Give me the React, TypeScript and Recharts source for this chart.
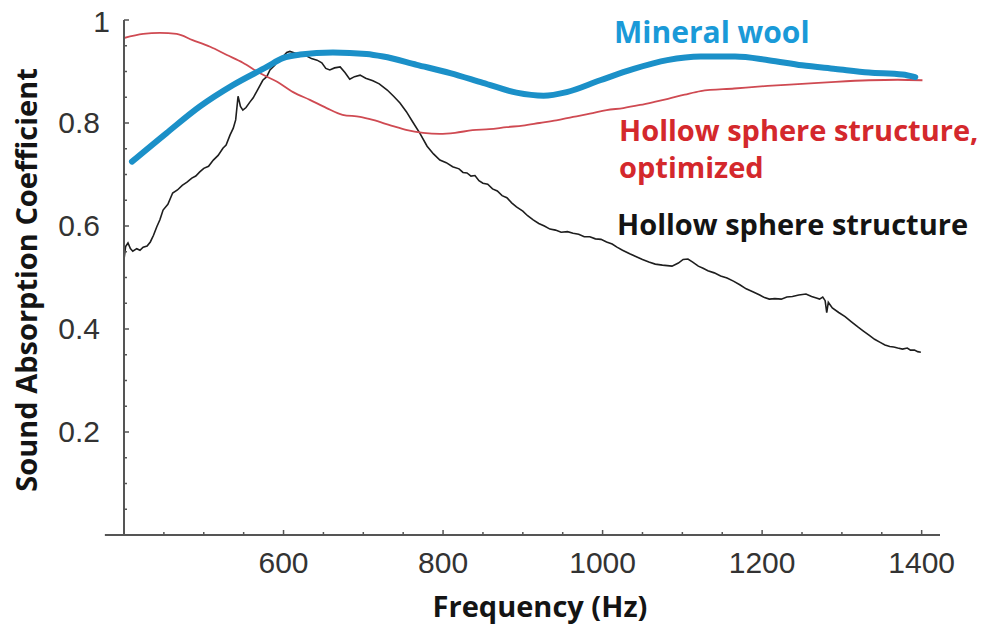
import React from "react";
import { LineChart, Line, XAxis, YAxis, ReferenceLine } from "recharts";

// ---- Data (frequency in Hz, sound absorption coefficient) ----
const mineralWoolFreq = [410, 453, 495, 537, 579, 599, 621, 662, 704, 725, 767, 809, 850, 892, 926, 955, 997, 1039, 1081, 1123, 1166, 1208, 1250, 1292, 1334, 1376, 1392];
const mineralWoolAbs = [0.725, 0.78, 0.832, 0.874, 0.909, 0.926, 0.933, 0.937, 0.934, 0.929, 0.913, 0.897, 0.878, 0.859, 0.853, 0.86, 0.883, 0.905, 0.922, 0.929, 0.929, 0.922, 0.912, 0.905, 0.898, 0.894, 0.889];

const optimizedFreq = [400, 424, 445, 466, 486, 508, 529, 549, 570, 592, 612, 633, 654, 674, 696, 712, 735, 755, 775, 796, 815, 837, 858, 880, 900, 921, 942, 963, 984, 1005, 1026, 1047, 1065, 1082, 1103, 1123, 1165, 1207, 1250, 1292, 1334, 1370, 1401];
const optimizedAbs = [0.965, 0.973, 0.975, 0.973, 0.961, 0.948, 0.932, 0.917, 0.897, 0.88, 0.86, 0.845, 0.829, 0.816, 0.812, 0.806, 0.795, 0.786, 0.781, 0.779, 0.781, 0.786, 0.788, 0.792, 0.795, 0.8, 0.805, 0.812, 0.818, 0.825, 0.829, 0.835, 0.841, 0.847, 0.855, 0.862, 0.867, 0.872, 0.876, 0.88, 0.883, 0.884, 0.883];

const hollowFreq = [400, 402, 405, 408, 411, 416, 420, 424, 429, 433, 437, 441, 445, 449, 455, 461, 467, 473, 479, 485, 490, 495, 500, 506, 512, 518, 524, 528, 533, 537, 540, 543, 546, 549, 553, 558, 562, 568, 574, 579, 583, 589, 595, 600, 604, 608, 614, 621, 628, 635, 642, 648, 653, 658, 664, 671, 677, 683, 689, 696, 703, 712, 720, 730, 738, 746, 754, 762, 771, 780, 788, 796, 804, 812, 820, 825, 830, 835, 840, 845, 850, 856, 862, 868, 874, 880, 886, 892, 900, 906, 913, 920, 927, 934, 941, 948, 956, 963, 970, 977, 984, 991, 998, 1005, 1012, 1018, 1025, 1034, 1043, 1050, 1058, 1066, 1075, 1087, 1095, 1101, 1107, 1113, 1120, 1126, 1132, 1140, 1148, 1156, 1164, 1172, 1180, 1189, 1197, 1203, 1209, 1216, 1224, 1231, 1238, 1246, 1255, 1262, 1268, 1272, 1276, 1279, 1281, 1283, 1288, 1296, 1304, 1312, 1320, 1327, 1334, 1341, 1348, 1354, 1360, 1365, 1370, 1376, 1382, 1386, 1391, 1395, 1399];
const hollowAbs = [0.535, 0.56, 0.567, 0.556, 0.551, 0.556, 0.553, 0.559, 0.561, 0.569, 0.582, 0.598, 0.612, 0.631, 0.642, 0.664, 0.67, 0.679, 0.685, 0.693, 0.697, 0.705, 0.712, 0.716, 0.728, 0.737, 0.751, 0.757, 0.777, 0.79, 0.806, 0.852, 0.832, 0.825, 0.83, 0.841, 0.849, 0.866, 0.883, 0.89, 0.903, 0.912, 0.926, 0.93, 0.937, 0.939, 0.936, 0.932, 0.931, 0.925, 0.922, 0.917, 0.906, 0.903, 0.907, 0.909, 0.898, 0.885, 0.89, 0.893, 0.887, 0.882, 0.876, 0.864, 0.852, 0.839, 0.822, 0.802, 0.78, 0.755, 0.74, 0.728, 0.723, 0.715, 0.711, 0.704, 0.703, 0.697, 0.698, 0.688, 0.683, 0.681, 0.672, 0.668, 0.659, 0.655, 0.645, 0.637, 0.629, 0.62, 0.612, 0.605, 0.6, 0.594, 0.592, 0.588, 0.589, 0.586, 0.584, 0.579, 0.579, 0.575, 0.574, 0.569, 0.565, 0.559, 0.553, 0.546, 0.54, 0.535, 0.53, 0.526, 0.524, 0.522, 0.528, 0.535, 0.536, 0.53, 0.522, 0.518, 0.513, 0.509, 0.503, 0.499, 0.493, 0.486, 0.478, 0.472, 0.466, 0.461, 0.458, 0.459, 0.458, 0.462, 0.463, 0.466, 0.468, 0.463, 0.46, 0.458, 0.462, 0.455, 0.432, 0.452, 0.441, 0.432, 0.424, 0.414, 0.404, 0.396, 0.388, 0.38, 0.374, 0.369, 0.366, 0.365, 0.363, 0.361, 0.363, 0.359, 0.359, 0.356, 0.355];

const xTicks = [450, 500, 550, 600, 650, 700, 750, 800, 850, 900, 950, 1000, 1050, 1100, 1150, 1200, 1250, 1300, 1350, 1400];
const xMajorTicks = [600, 800, 1000, 1200, 1400];
const yTicks = [0.05, 0.1, 0.15, 0.2, 0.25, 0.3, 0.35, 0.4, 0.45, 0.5, 0.55, 0.6, 0.65, 0.7, 0.75, 0.8, 0.85, 0.9, 0.95, 1];
const yMajorTicks = [0.2, 0.4, 0.6, 0.8, 1];
const yMajorLabels = ["0.2", "0.4", "0.6", "0.8", "1"];

const toPoints = (fs: number[], vs: number[]) => fs.map((f, i) => ({ f, v: vs[i] }));
const mineralWool = toPoints(mineralWoolFreq, mineralWoolAbs);
const optimized = toPoints(optimizedFreq, optimizedAbs);
const hollow = toPoints(hollowFreq, hollowAbs);

const AXIS = "#555";
const TICK_FONT = "'Liberation Sans', Arial, sans-serif";
const TITLE_FONT = "'Open Sans', 'Noto Sans', sans-serif";

const YTick = (props: any) => {
  const { x, y, payload } = props;
  const v = payload.value;
  const idx = yMajorTicks.findIndex((m) => Math.abs(m - v) < 1e-6);
  const major = idx >= 0;
  return (
    <g>
      <line x1={x} x2={x + (major ? 5 : 3)} y1={y} y2={y} stroke={AXIS} strokeWidth={1.5} />
      {major && (
        <text
          x={v === 1 ? x - 14 : x - 24}
          y={y + (v === 1 ? 12 : 10)}
          textAnchor="end"
          fontFamily={TICK_FONT}
          fontSize={30}
          fill="#333"
        >
          {yMajorLabels[idx]}
        </text>
      )}
    </g>
  );
};

const XTick = (props: any) => {
  const { x, y, payload } = props;
  const v = payload.value;
  const major = xMajorTicks.includes(v);
  return (
    <g>
      <line x1={x} x2={x} y1={y} y2={y - (major ? 5 : 3)} stroke={AXIS} strokeWidth={1.5} />
      {major && (
        <text x={x} y={y + 38} textAnchor="middle" fontFamily={TICK_FONT} fontSize={30} fill="#333">
          {String(v)}
        </text>
      )}
    </g>
  );
};

export default function App() {
  return (
    <div style={{ position: "absolute", left: 0, top: 0, width: 990, height: 632, background: "#fff" }}>
      <LineChart width={990} height={632} margin={{ top: 20, right: 50, bottom: 37, left: 64 }}>
        <XAxis
          dataKey="f"
          type="number"
          domain={[400, 1423]}
          ticks={xTicks}
          interval={0}
          allowDataOverflow
          axisLine={false}
          tickLine={false}
          tickSize={0}
          tickMargin={0}
          height={60}
          tick={<XTick />}
        />
        <YAxis
          type="number"
          domain={[0, 1]}
          ticks={yTicks}
          interval={0}
          width={60}
          axisLine={{ stroke: AXIS, strokeWidth: 2 }}
          tickLine={false}
          tickSize={0}
          tickMargin={0}
          tick={<YTick />}
        />
        <ReferenceLine
          segment={[{ x: 376, y: 0 }, { x: 1423, y: 0 }]}
          ifOverflow="visible"
          stroke={AXIS}
          strokeWidth={2}
        />
        <Line
          data={hollow}
          dataKey="v"
          type="linear"
          stroke="#1e1e1e"
          strokeWidth={1.6}
          dot={false}
          isAnimationActive={false}
        />
        <Line
          data={optimized}
          dataKey="v"
          type="monotone"
          stroke="#cf4a52"
          strokeWidth={1.8}
          dot={false}
          isAnimationActive={false}
        />
        <Line
          data={mineralWool}
          dataKey="v"
          type="monotone"
          stroke="#1b90c8"
          strokeWidth={6}
          strokeLinecap="round"
          dot={false}
          isAnimationActive={false}
        />
      </LineChart>
      <svg
        width={990}
        height={632}
        style={{ position: "absolute", left: 0, top: 0, pointerEvents: "none" }}
      >
        <text x={614} y={43} fontFamily={TITLE_FONT} fontWeight={700} fontSize={30} fill="#1a9ad8">
          Mineral wool
        </text>
        <text x={619} y={141} fontFamily={TITLE_FONT} fontWeight={700} fontSize={29} fill="#d4282c">
          Hollow sphere structure,
        </text>
        <text x={619} y={178} fontFamily={TITLE_FONT} fontWeight={700} fontSize={29} fill="#d4282c">
          optimized
        </text>
        <text x={617} y={235} fontFamily={TITLE_FONT} fontWeight={700} fontSize={29} fill="#141414">
          Hollow sphere structure
        </text>
        <text
          x={540}
          y={617}
          textAnchor="middle"
          fontFamily={TITLE_FONT}
          fontWeight={700}
          fontSize={29}
          fill="#141414"
        >
          Frequency (Hz)
        </text>
        <text
          transform="translate(37,280) rotate(-90)"
          textAnchor="middle"
          fontFamily={TITLE_FONT}
          fontWeight={700}
          fontSize={29}
          fill="#141414"
        >
          Sound Absorption Coefficient
        </text>
      </svg>
    </div>
  );
}
